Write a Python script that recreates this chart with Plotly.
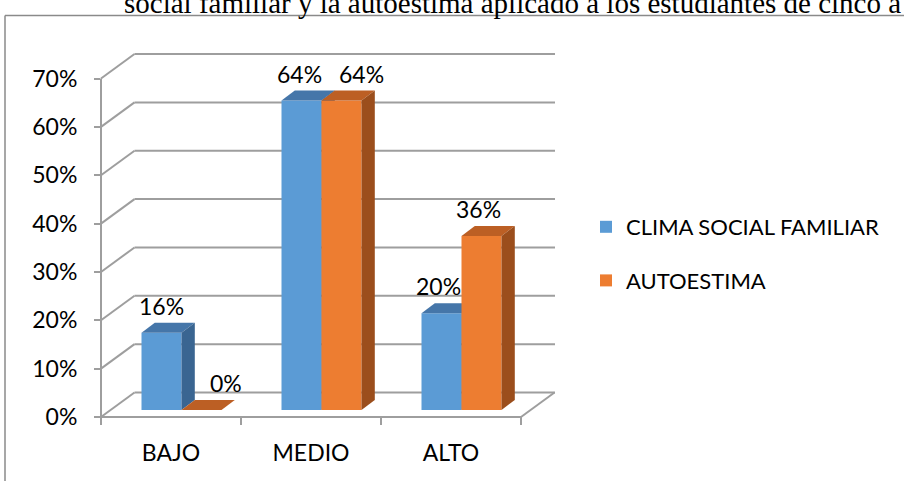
import plotly.graph_objects as go

# ---------------- data ----------------
categories = ["BAJO", "MEDIO", "ALTO"]
series_names = ["CLIMA SOCIAL FAMILIAR", "AUTOESTIMA"]
clima = [16, 64, 20]
autoestima = [0, 64, 36]
y_ticks = [0, 10, 20, 30, 40, 50, 60, 70]
y_tick_labels = ["0%", "10%", "20%", "30%", "40%", "50%", "60%", "70%"]
title_text = "social familiar y la autoestima aplicado a los estudiantes de cinco a"

# ---------------- layout geometry (style) ----------------
W, H = 904, 481
L, R, T, B = 101, 349, 40, 64
PW = W - L - R
PH = H - T - B
PX_CAT = 140.0
PX_PCT = 4.835
X0 = -0.5
X1 = X0 + PW / PX_CAT
Y1 = PH / PX_PCT


def dxu(px):
    return px / PX_CAT


def dyu(px):
    return px / PX_PCT


def px2paper(px, py):
    return (px - L) / PW, (H - B - py) / PH


def d2paper(xd, yd):
    return (xd - X0) / (X1 - X0), yd / Y1


BAR_PLANE = (10.5, 7.0)
BAR_DEPTH = (13.3, 10.0)
WALL_DEPTH = (33.5, 24.5)
BAR_W = 40.0

FONT = "Lato"
GRID = "#9E9E9E"
colors = [
    dict(front="#5B9BD5", top="#4576A9", side="#3A6591"),
    dict(front="#ED7D31", top="#BC5F24", side="#9B4E1C"),
]
label_xshift = [[0, -2, -3], [24, 20, -3]]

fig = go.Figure()

series_vals = [clima, autoestima]
base = dyu(BAR_PLANE[1])
w = dxu(BAR_W)
ddx, ddy = dxu(BAR_DEPTH[0]), dyu(BAR_DEPTH[1])
annotations = []

for s, vals in enumerate(series_vals):
    yax = "y" if s == 0 else "y2"
    c = colors[s]
    lefts = [i + dxu(BAR_PLANE[0]) + (s - 1) * w for i in range(len(categories))]
    centers = [lx + w / 2 for lx in lefts]
    fig.add_trace(go.Bar(
        x=centers, y=vals, base=[base] * len(vals), width=w,
        marker=dict(color=c["front"], line=dict(width=0)),
        name=series_names[s], legendgroup=series_names[s],
        xaxis="x", yaxis=yax, hoverinfo="skip",
    ))
    for i, v in enumerate(vals):
        x0, x1 = lefts[i], lefts[i] + w
        t = base + v
        # top face
        fig.add_trace(go.Scatter(
            x=[x0, x1, x1 + ddx, x0 + ddx, x0],
            y=[t, t, t + ddy, t + ddy, t],
            fill="toself", fillcolor=c["top"], mode="lines",
            line=dict(width=0, color=c["top"]), showlegend=False,
            hoverinfo="skip", xaxis="x", yaxis=yax,
        ))
        # side face
        if v > 0:
            fig.add_trace(go.Scatter(
                x=[x1, x1 + ddx, x1 + ddx, x1, x1],
                y=[base, base + ddy, t + ddy, t, base],
                fill="toself", fillcolor=c["side"], mode="lines",
                line=dict(width=0, color=c["side"]), showlegend=False,
                hoverinfo="skip", xaxis="x", yaxis=yax,
            ))
        annotations.append(dict(
            x=centers[i], y=t, xref="x", yref="y", text=f"{v}%",
            showarrow=False, yshift=27, xshift=label_xshift[s][i],
            font=dict(family=FONT, size=23, color="black"),
        ))

shapes = []
line = dict(color=GRID, width=2)
wdx, wdy = dxu(WALL_DEPTH[0]), dyu(WALL_DEPTH[1])
for v in y_ticks:
    ax, ay = d2paper(X0, v)
    bx, by = d2paper(X0 + wdx, v + wdy)
    cx, cy = d2paper(X1, v + wdy)
    shapes.append(dict(type="line", xref="paper", yref="paper", x0=ax, y0=ay, x1=bx, y1=by, line=line, layer="below"))
    shapes.append(dict(type="line", xref="paper", yref="paper", x0=bx, y0=by, x1=cx, y1=cy, line=line, layer="below"))
# floor front and right edges
fx0, fy0 = d2paper(X0, 0)
fx1, fy1 = d2paper(len(categories) - 0.5, 0)
rx, ry = d2paper(len(categories) - 0.5 + wdx, wdy)
shapes.append(dict(type="line", xref="paper", yref="paper", x0=fx0, y0=fy0, x1=fx1, y1=fy1, line=line, layer="below"))
shapes.append(dict(type="line", xref="paper", yref="paper", x0=fx1, y0=fy1, x1=rx, y1=ry, line=line, layer="below"))
# front vertical axis
ax0, ay0 = d2paper(X0, y_ticks[-1])
ax1, ay1 = d2paper(X0, -dyu(8))
shapes.append(dict(type="line", xref="paper", yref="paper", x0=ax0, y0=ay0, x1=ax1, y1=ay1, line=line, layer="below"))
# category tick marks
for k in range(1, len(categories) + 1):
    tx, ty0 = d2paper(k - 0.5, 0)
    _, ty1 = d2paper(k - 0.5, -dyu(8))
    shapes.append(dict(type="line", xref="paper", yref="paper", x0=tx, y0=ty0, x1=tx, y1=ty1, line=line, layer="below"))
# outer frame
p0 = px2paper(5, 15.5)
p1 = px2paper(904, 15.5)
p2 = px2paper(5, 481)
frame = dict(color="#8A8A8A", width=1.5)
shapes.append(dict(type="line", xref="paper", yref="paper", x0=p0[0], y0=p0[1], x1=p1[0], y1=p1[1], line=frame))
shapes.append(dict(type="line", xref="paper", yref="paper", x0=p0[0], y0=p0[1], x1=p2[0], y1=p2[1], line=frame))

tx, ty = px2paper(122, 3)
annotations.append(dict(
    x=tx, y=ty, xref="paper", yref="paper", xanchor="left", yanchor="middle",
    text=title_text, showarrow=False,
    font=dict(family="Liberation Serif", size=29, color="black"),
))

lx, ly = px2paper(586, 206)

fig.update_layout(
    width=W, height=H,
    margin=dict(l=L, r=R, t=T, b=B, pad=0),
    paper_bgcolor="white", plot_bgcolor="rgba(0,0,0,0)",
    barmode="overlay",
    xaxis=dict(
        range=[X0, X1], tickvals=list(range(len(categories))), ticktext=categories,
        showgrid=False, zeroline=False, showline=False, ticks="",
        tickfont=dict(family=FONT, size=23, color="black"), ticklabelstandoff=20,
    ),
    yaxis=dict(
        range=[0, Y1], tickvals=y_ticks, ticktext=y_tick_labels,
        showgrid=False, zeroline=False, showline=False,
        ticks="outside", ticklen=6, tickwidth=2, tickcolor=GRID,
        tickfont=dict(family=FONT, size=23, color="black"), ticklabelstandoff=12,
    ),
    yaxis2=dict(range=[0, Y1], overlaying="y", visible=False),
    shapes=shapes,
    annotations=annotations,
    showlegend=True,
    legend=dict(
        x=lx, y=ly, xanchor="left", yanchor="top",
        font=dict(family=FONT, size=22, color="black"),
        traceorder="grouped", tracegroupgap=22, bgcolor="rgba(0,0,0,0)",
    ),
)

fig.write_html(
    "out.html",
    config={"displayModeBar": False},
    post_script="document.body.style.margin='0';document.body.style.overflow='hidden';",
)
